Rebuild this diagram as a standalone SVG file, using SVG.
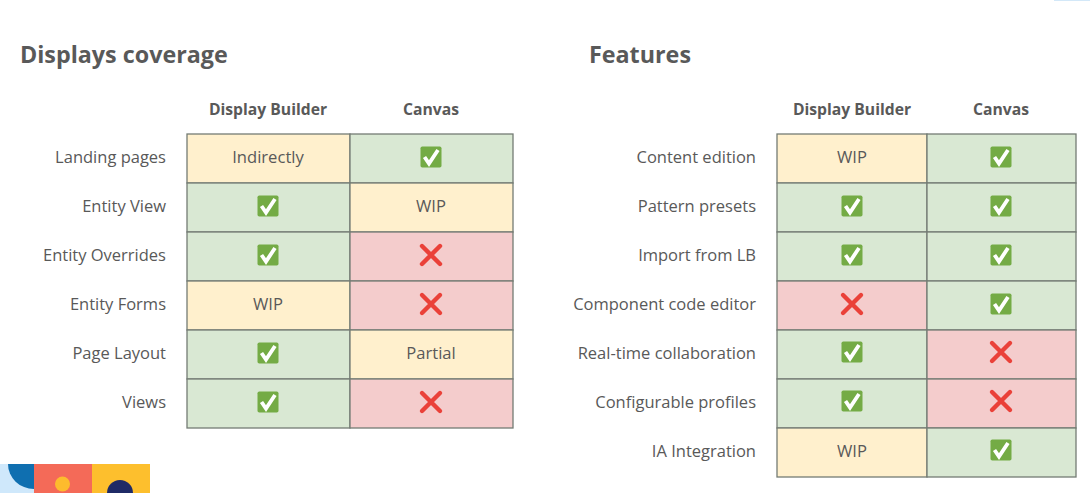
<svg xmlns="http://www.w3.org/2000/svg" width="1090" height="493" viewBox="0 0 1090 493">
<style>
text{font-family:"Open Sans","Noto Sans","Liberation Sans",sans-serif;fill:#595959}
.title{font-size:23.3px;font-weight:700}
.head{font-size:15.7px;font-weight:700;text-anchor:middle}
.lbl{font-size:16.5px;text-anchor:end}
.val{font-size:16.6px;text-anchor:middle}
.g{fill:#d9e8d3}.y{fill:#fff0cd}.r{fill:#f4cccc}
.cell{stroke:#747c74;stroke-width:1.3}
</style>
<defs>
<g id="ok"><rect x="-10.500" y="-10.500" width="21" height="21" rx="1.800" fill="#74ab45"/><path d="M-6.500 0L-2 6.500L7-7" fill="none" stroke="#fff" stroke-width="3.800"/></g>
<g id="no"><path d="M-9-9L9 9M9-9L-9 9" fill="none" stroke="#ea4139" stroke-width="4.400" stroke-linecap="round"/></g>
</defs>
<rect width="1090" height="493" fill="#fff"/>
<rect x="1054" y="0" width="36" height="1" fill="#d3e8f8"/>
<g id="logo">
<rect x="0" y="464" width="34" height="29" fill="#cfe8fb"/>
<path d="M8 464H34V489A26 25 0 0 1 8 464Z" fill="#0f6fb0"/>
<rect x="34" y="464" width="58" height="29" fill="#f46a58"/>
<circle cx="62.500" cy="484" r="7.500" fill="#fdbb2d"/>
<rect x="92" y="464" width="58" height="29" fill="#fdbf2d"/>
<circle cx="120" cy="493" r="13" fill="#1f2a66"/>
</g>
<text class="title" x="20" y="63">Displays coverage</text>
<text class="title" x="589" y="63">Features</text>
<g id="left-table-header">
<text class="head" x="268" y="115">Display Builder</text>
<text class="head" x="431" y="115">Canvas</text>
</g>
<g id="left-table">
<g id="l1"><text class="lbl" x="166" y="163">Landing pages</text><rect class="cell y" x="187" y="134" width="163" height="49"/><text class="val" x="268" y="163">Indirectly</text><rect class="cell g" x="350" y="134" width="163" height="49"/><use href="#ok" x="431" y="157"/></g>
<g id="l2"><text class="lbl" x="166" y="212">Entity View</text><rect class="cell g" x="187" y="183" width="163" height="49"/><use href="#ok" x="268" y="206"/><rect class="cell y" x="350" y="183" width="163" height="49"/><text class="val" x="431" y="212">WIP</text></g>
<g id="l3"><text class="lbl" x="166" y="261">Entity Overrides</text><rect class="cell g" x="187" y="232" width="163" height="49"/><use href="#ok" x="268" y="255"/><rect class="cell r" x="350" y="232" width="163" height="49"/><use href="#no" x="431" y="255"/></g>
<g id="l4"><text class="lbl" x="166" y="310">Entity Forms</text><rect class="cell y" x="187" y="281" width="163" height="49"/><text class="val" x="268" y="310">WIP</text><rect class="cell r" x="350" y="281" width="163" height="49"/><use href="#no" x="431" y="304"/></g>
<g id="l5"><text class="lbl" x="166" y="359">Page Layout</text><rect class="cell g" x="187" y="330" width="163" height="49"/><use href="#ok" x="268" y="353"/><rect class="cell y" x="350" y="330" width="163" height="49"/><text class="val" x="431" y="359">Partial</text></g>
<g id="l6"><text class="lbl" x="166" y="408">Views</text><rect class="cell g" x="187" y="379" width="163" height="49"/><use href="#ok" x="268" y="402"/><rect class="cell r" x="350" y="379" width="163" height="49"/><use href="#no" x="431" y="402"/></g>
</g>
<g id="right-table-header">
<text class="head" x="852" y="115">Display Builder</text>
<text class="head" x="1001" y="115">Canvas</text>
</g>
<g id="right-table">
<g id="r1"><text class="lbl" x="756" y="163">Content edition</text><rect class="cell y" x="777" y="134" width="150" height="49"/><text class="val" x="852" y="163">WIP</text><rect class="cell g" x="927" y="134" width="149" height="49"/><use href="#ok" x="1001" y="157"/></g>
<g id="r2"><text class="lbl" x="756" y="212">Pattern presets</text><rect class="cell g" x="777" y="183" width="150" height="49"/><use href="#ok" x="852" y="206"/><rect class="cell g" x="927" y="183" width="149" height="49"/><use href="#ok" x="1001" y="206"/></g>
<g id="r3"><text class="lbl" x="756" y="261">Import from LB</text><rect class="cell g" x="777" y="232" width="150" height="49"/><use href="#ok" x="852" y="255"/><rect class="cell g" x="927" y="232" width="149" height="49"/><use href="#ok" x="1001" y="255"/></g>
<g id="r4"><text class="lbl" x="756" y="310">Component code editor</text><rect class="cell r" x="777" y="281" width="150" height="49"/><use href="#no" x="852" y="304"/><rect class="cell g" x="927" y="281" width="149" height="49"/><use href="#ok" x="1001" y="304"/></g>
<g id="r5"><text class="lbl" x="756" y="359">Real-time collaboration</text><rect class="cell g" x="777" y="330" width="150" height="49"/><use href="#ok" x="852" y="352"/><rect class="cell r" x="927" y="330" width="149" height="49"/><use href="#no" x="1001" y="352"/></g>
<g id="r6"><text class="lbl" x="756" y="408">Configurable profiles</text><rect class="cell g" x="777" y="379" width="150" height="49"/><use href="#ok" x="852" y="401"/><rect class="cell r" x="927" y="379" width="149" height="49"/><use href="#no" x="1001" y="401"/></g>
<g id="r7"><text class="lbl" x="756" y="457">IA Integration</text><rect class="cell y" x="777" y="428" width="150" height="49"/><text class="val" x="852" y="457">WIP</text><rect class="cell g" x="927" y="428" width="149" height="49"/><use href="#ok" x="1001" y="450"/></g>
</g>
</svg>
